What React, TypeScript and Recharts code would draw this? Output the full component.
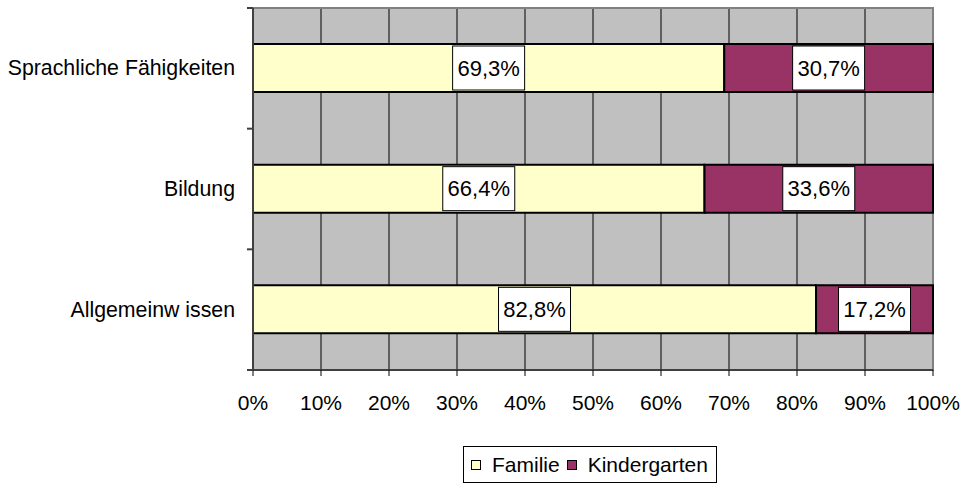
import React from "react";
import { BarChart, Bar, XAxis, YAxis, CartesianGrid, LabelList, ReferenceArea } from "recharts";

const categories = ["Sprachliche Fähigkeiten", "Bildung", "Allgemeinw issen"];
const familie = [69.3, 66.4, 82.8];
const kindergarten = [30.7, 33.6, 17.2];
const xTicks = [0, 10, 20, 30, 40, 50, 60, 70, 80, 90, 100];

const seriesNames = { familie: "Familie", kindergarten: "Kindergarten" };
const colors = { familie: "#FFFFCC", kindergarten: "#993366" };

const data = categories.map((name, i) => ({
  name,
  familie: familie[i],
  kindergarten: kindergarten[i],
}));

const FONT = "'Liberation Sans', Arial, sans-serif";
const FS = 21;

const fmt = (v: number) => v.toFixed(1).replace(".", ",") + "%";

const YTick = (props: any) => {
  const { x, y, payload, index } = props;
  const off = payload && payload.offset ? payload.offset : 0;
  const axisX = x + 18;
  return (
    <g>
      <text x={x} y={y} textAnchor="end" dominantBaseline="central" fontFamily={FONT} fontSize={21.3} fill="#000">
        {payload.value}
      </text>
      <line x1={axisX - 6} x2={axisX} y1={y - off} y2={y - off} stroke="#404040" strokeWidth={2} />
      {index === categories.length - 1 ? (
        <line x1={axisX - 6} x2={axisX} y1={y + off} y2={y + off} stroke="#404040" strokeWidth={2} />
      ) : null}
    </g>
  );
};

const BoxLabel = (props: any) => {
  const { x, y, width, height, value } = props;
  const cx = x + width / 2;
  const cy = y + height / 2;
  const bw = 72;
  const bh = height - 4;
  return (
    <g>
      <rect x={cx - bw / 2} y={cy - bh / 2} width={bw} height={bh} fill="#FFFFFF" stroke="#000" strokeWidth={1} />
      <text x={cx} y={cy} textAnchor="middle" dominantBaseline="central" fontFamily={FONT} fontSize={22} fill="#000">
        {fmt(value)}
      </text>
    </g>
  );
};

export default function App() {
  return (
    <div style={{ position: "absolute", left: 0, top: 0, width: 964, height: 488, background: "#fff", fontFamily: FONT }}>
      <BarChart
        width={964}
        height={488}
        data={data}
        layout="vertical"
        margin={{ top: 8, right: 31, left: 0, bottom: 0 }}
        barCategoryGap={0}
      >
        <CartesianGrid horizontal={false} vertical={true} stroke="#000" strokeWidth={1} fill="#C0C0C0" fillOpacity={1} />
        <ReferenceArea x1={0} x2={100} fill="none" stroke="#808080" strokeWidth={2} ifOverflow="visible" />
        <XAxis
          type="number"
          domain={[0, 100]}
          ticks={xTicks}
          interval={0}
          tickFormatter={(v: number) => `${v}%`}
          height={118}
          tickSize={6}
          tickMargin={19}
          axisLine={{ stroke: "#404040", strokeWidth: 2 }}
          tickLine={{ stroke: "#000", strokeWidth: 1 }}
          tick={{ fontFamily: FONT, fontSize: FS, fill: "#000" }}
        />
        <YAxis
          type="category"
          dataKey="name"
          width={253}
          tick={<YTick />}
          tickLine={false}
          tickSize={0}
          tickMargin={18}
          axisLine={{ stroke: "#404040", strokeWidth: 2 }}
        />
        <Bar dataKey="familie" name={seriesNames.familie} stackId="a" fill={colors.familie} stroke="#000" strokeWidth={2} barSize={48} isAnimationActive={false}>
          <LabelList dataKey="familie" content={<BoxLabel />} />
        </Bar>
        <Bar dataKey="kindergarten" name={seriesNames.kindergarten} stackId="a" fill={colors.kindergarten} stroke="#000" strokeWidth={2} barSize={48} isAnimationActive={false}>
          <LabelList dataKey="kindergarten" content={<BoxLabel />} />
        </Bar>
      </BarChart>
      <div
        style={{
          position: "absolute",
          left: 463,
          top: 446,
          width: 254,
          height: 37,
          border: "1px solid #000",
          boxSizing: "border-box",
          display: "flex",
          alignItems: "center",
          paddingLeft: 7,
          fontSize: 21,
          fontFamily: FONT,
          color: "#000",
        }}
      >
        {(["familie", "kindergarten"] as const).map((k, i) => (
          <span key={k} style={{ display: "flex", alignItems: "center", marginRight: i === 0 ? 7 : 0 }}>
            <span
              style={{
                display: "inline-block",
                width: 8,
                height: 8,
                background: colors[k],
                border: "1px solid #000",
                marginRight: 11,
              }}
            />
            {seriesNames[k]}
          </span>
        ))}
      </div>
    </div>
  );
}
